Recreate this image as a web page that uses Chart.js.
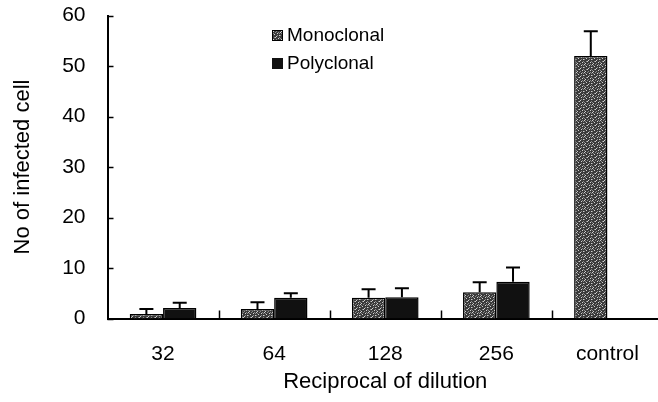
<!DOCTYPE html>
<html>
<head>
<meta charset="utf-8">
<script src="https://cdn.jsdelivr.net/npm/chart.js@4/dist/chart.umd.min.js"></script>
<style>
  html, body { margin: 0; padding: 0; background: #fff; overflow: hidden; }
  #wrap { width: 665px; height: 402px; }
</style>
</head>
<body>
<div id="wrap"><canvas id="chart"></canvas></div>
<script>
const categories = ['32', '64', '128', '256', 'control'];
const monoclonal = [0.9, 1.9, 4.1, 5.2, 52];
const monoclonalErr = [1.0, 1.3, 1.7, 2.0, 4.9];
const polyclonal = [2.1, 4.1, 4.2, 7.3, null];
const polyclonalErr = [1.0, 0.9, 1.8, 2.8, null];
const yTicks = [0, 10, 20, 30, 40, 50, 60];

const FONT = "'Liberation Sans', Arial, sans-serif";

// speckled grey fill like the scanned original
function makeSpeckle() {
  const c = document.createElement('canvas');
  c.width = 8; c.height = 8;
  const g = c.getContext('2d');
  g.fillStyle = '#3a3a3a';
  g.fillRect(0, 0, 8, 8);
  g.fillStyle = '#d0d0d0';
  [[0,0],[5,1],[2,2],[7,3],[3,5],[6,6],[1,7],[4,4]].forEach(p => g.fillRect(p[0], p[1], 1, 1));
  g.fillStyle = '#888';
  [[3,0],[7,1],[0,3],[5,3],[2,5],[7,5],[4,7],[1,1],[6,0],[0,6]].forEach(p => g.fillRect(p[0], p[1], 1, 1));
  return g.createPattern(c, 'repeat');
}

const ctx = document.getElementById('chart').getContext('2d');
const speckle = makeSpeckle();
const errors = [monoclonalErr, polyclonalErr];

const axisMarks = {
  id: 'axisMarks',
  afterDatasetsDraw(chart) {
    const c = chart.ctx;
    const x = chart.scales.x, y = chart.scales.y;
    const area = chart.chartArea;
    c.save();
    c.strokeStyle = '#000';
    // error bars, upper side only
    c.lineWidth = 2;
    chart.data.datasets.forEach((ds, i) => {
      const meta = chart.getDatasetMeta(i);
      meta.data.forEach((bar, j) => {
        const v = ds.data[j];
        const e = errors[i][j];
        if (v == null || e == null) return;
        const top = y.getPixelForValue(v + e);
        c.beginPath();
        c.moveTo(bar.x, bar.y);
        c.lineTo(bar.x, top);
        c.moveTo(bar.x - 7, top);
        c.lineTo(bar.x + 7, top);
        c.stroke();
      });
    });
    // inward y ticks
    c.lineWidth = 1.5;
    yTicks.forEach(t => {
      const py = Math.round(y.getPixelForValue(t)) + 0.5;
      c.beginPath();
      c.moveTo(area.left, py);
      c.lineTo(area.left + 6, py);
      c.stroke();
    });
    // inward category separators on x axis
    for (let i = 0; i < categories.length - 1; i++) {
      const px = Math.round((x.getPixelForTick(i) + x.getPixelForTick(i + 1)) / 2) + 0.5;
      c.beginPath();
      c.moveTo(px, area.bottom);
      c.lineTo(px, area.bottom - 8);
      c.stroke();
    }
    c.restore();
  },
  afterDraw(chart) {
    const c = chart.ctx;
    c.save();
    c.font = '19px ' + FONT;
    c.textBaseline = 'middle';
    c.fillStyle = speckle;
    c.fillRect(272, 30, 11, 11);
    c.strokeStyle = '#000';
    c.lineWidth = 1;
    c.strokeRect(272.5, 30.5, 10, 10);
    c.fillStyle = '#111';
    c.fillRect(272, 58, 11, 11);
    c.fillStyle = '#000';
    c.fillText(chart.data.datasets[0].label, 287, 36);
    c.fillText(chart.data.datasets[1].label, 287, 64);
    c.restore();
  }
};

new Chart(ctx, {
  type: 'bar',
  data: {
    labels: categories,
    datasets: [
      {
        label: 'Monoclonal',
        data: monoclonal,
        backgroundColor: speckle,
        borderColor: '#000',
        borderWidth: 1.5
      },
      {
        label: 'Polyclonal',
        data: polyclonal,
        backgroundColor: '#111',
        borderColor: '#000',
        borderWidth: 1.5
      }
    ]
  },
  options: {
    responsive: true,
    maintainAspectRatio: false,
    animation: false,
    categoryPercentage: 0.6,
    barPercentage: 1.0,
    layout: { padding: { left: 6, right: 2, top: 15.5, bottom: 4 } },
    plugins: {
      legend: { display: false },
      tooltip: { enabled: false }
    },
    scales: {
      x: {
        afterFit(scale) { scale.height = 79.5; },
        grid: { display: false, drawTicks: false },
        border: { display: true, color: '#000', width: 2 },
        ticks: { color: '#000', padding: 23, font: { family: FONT, size: 21 } },
        title: {
          display: true,
          text: 'Reciprocal of dilution',
          color: '#000',
          padding: { top: 4, bottom: 3 },
          font: { family: FONT, size: 22 }
        }
      },
      y: {
        min: 0,
        max: 60,
        afterFit(scale) {
          scale.width = 101.5;
          scale.paddingTop = 0;
          scale.paddingBottom = 0;
        },
        grid: { display: false, drawTicks: false },
        border: { display: true, color: '#000', width: 2 },
        ticks: { color: '#000', stepSize: 10, padding: 22, font: { family: FONT, size: 21 } },
        title: {
          display: true,
          text: 'No of infected cell',
          color: '#000',
          padding: { top: 4, bottom: 4 },
          font: { family: FONT, size: 22 }
        }
      }
    }
  },
  plugins: [axisMarks]
});
</script>
</body>
</html>
